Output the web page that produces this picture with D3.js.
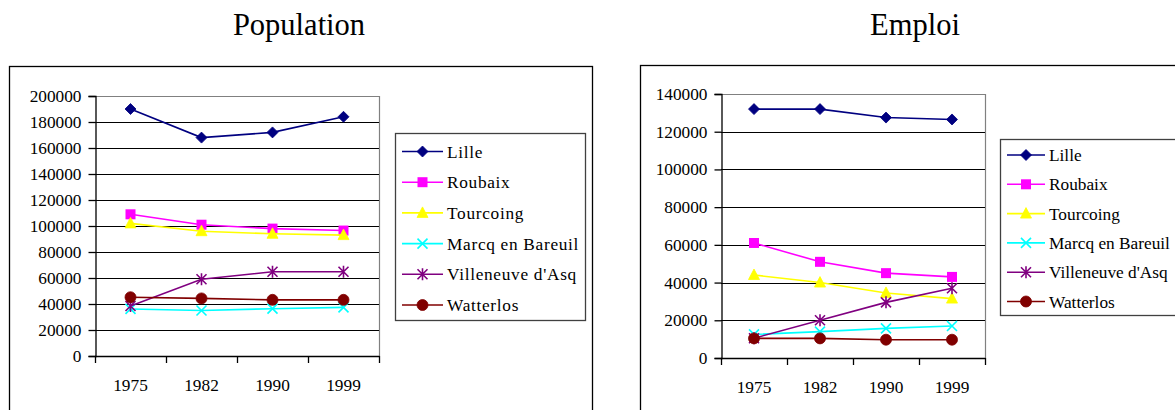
<!DOCTYPE html>
<html>
<head>
<meta charset="utf-8">
<script src="https://cdn.jsdelivr.net/npm/d3@7"></script>
<style>
  html, body { margin: 0; padding: 0; background: #fff; }
  svg { display: block; }
  svg text { font-family: "Liberation Serif", "Times New Roman", serif; }
</style>
</head>
<body>
<svg id="chart" width="1175" height="410"></svg>
<script>
// Years on the category axis
const years = ["1975", "1982", "1990", "1999"];

// Communes, in legend order
const communes = ["Lille", "Roubaix", "Tourcoing", "Marcq en Bareuil", "Villeneuve d'Asq", "Watterlos"];

// Population by commune, one value per year
const popLille      = [190000, 168000, 172000, 184000];
const popRoubaix    = [109000, 101000, 98000, 96500];
const popTourcoing  = [102000, 96000, 94000, 93000];
const popMarcq      = [36200, 35000, 36400, 37400];
const popVilleneuve = [38500, 59000, 64800, 64800];
const popWatterlos  = [45200, 44300, 43200, 43200];

// Jobs by commune, one value per year
const empLille      = [132000, 132000, 127500, 126500];
const empRoubaix    = [61000, 51000, 45000, 43000];
const empTourcoing  = [44000, 40000, 34500, 31500];
const empMarcq      = [12500, 14000, 15700, 17000];
const empVilleneuve = [10500, 20000, 29500, 37000];
const empWatterlos  = [10400, 10400, 9700, 9700];

// Value-axis tick labels
const popTicks = [0, 20000, 40000, 60000, 80000, 100000, 120000, 140000, 160000, 180000, 200000];
const empTicks = [0, 20000, 40000, 60000, 80000, 100000, 120000, 140000];

const colors  = ["#000080", "#FF00FF", "#FFFF00", "#00FFFF", "#800080", "#800000"];
const markers = ["diamond", "square", "triangle", "x", "asterisk", "circle"];

const FONT = "'Liberation Serif', 'Times New Roman', serif";
const svg = d3.select("#chart");

// Marker shapes drawn as paths centred on (0,0)
function markerPath(kind) {
  const p = d3.path();
  switch (kind) {
    case "diamond": p.moveTo(0, -5.5); p.lineTo(5.5, 0); p.lineTo(0, 5.5); p.lineTo(-5.5, 0); p.closePath(); break;
    case "square": p.rect(-5, -5, 10, 10); break;
    case "triangle": p.moveTo(0, -6); p.lineTo(5.5, 4.5); p.lineTo(-5.5, 4.5); p.closePath(); break;
    case "x": p.moveTo(-5, -5); p.lineTo(5, 5); p.moveTo(5, -5); p.lineTo(-5, 5); break;
    case "asterisk": p.moveTo(-5, -5); p.lineTo(5, 5); p.moveTo(5, -5); p.lineTo(-5, 5); p.moveTo(0, -6); p.lineTo(0, 6); break;
    case "circle": p.arc(0, 0, 5.5, 0, 2 * Math.PI); break;
  }
  return p.toString();
}

function drawMarker(g, kind, color, x, y) {
  const stroked = kind === "x" || kind === "asterisk";
  g.append("path")
    .attr("d", markerPath(kind))
    .attr("transform", `translate(${x},${y})`)
    .attr("fill", stroked ? "none" : color)
    .attr("stroke", color)
    .attr("stroke-width", stroked ? 1.6 : (kind === "square" ? 0 : 0.8));
}

function drawPanel(cfg) {
  const g = svg.append("g").attr("font-family", FONT);

  // Outer chart frame
  g.append("rect")
    .attr("x", cfg.frame[0] + 0.5).attr("y", cfg.frame[1] + 0.5)
    .attr("width", cfg.frame[2]).attr("height", cfg.frame[3])
    .attr("fill", "none").attr("stroke", "#000").attr("stroke-width", 1.3);

  // Title
  g.append("text")
    .attr("x", cfg.titleX).attr("y", 35)
    .attr("text-anchor", "middle")
    .attr("font-family", FONT)
    .attr("font-size", 30.5)
    .attr("fill", "#000")
    .text(cfg.title);

  const x = d3.scaleBand().domain(years).range([cfg.plot.left, cfg.plot.right]).padding(0);
  const y = d3.scaleLinear().domain([0, d3.max(cfg.ticks)]).range([cfg.plot.bottom, cfg.plot.top]);

  // Plot area outline (grey top and right)
  g.append("path")
    .attr("d", `M${cfg.plot.left},${cfg.plot.top + 0.5}H${cfg.plot.right + 0.5}V${cfg.plot.bottom}`)
    .attr("fill", "none").attr("stroke", "#808080").attr("stroke-width", 1.2);

  // Horizontal gridlines
  g.append("g").selectAll("line")
    .data(cfg.ticks.filter(t => t > 0 && t < d3.max(cfg.ticks)))
    .join("line")
    .attr("x1", cfg.plot.left).attr("x2", cfg.plot.right)
    .attr("y1", d => Math.round(y(d)) + 0.5).attr("y2", d => Math.round(y(d)) + 0.5)
    .attr("stroke", "#000").attr("stroke-width", 1);

  // Value axis
  const yAxis = g.append("g")
    .attr("transform", `translate(${cfg.plot.left + 0.5},0)`)
    .call(d3.axisLeft(y).tickValues(cfg.ticks).tickFormat(d3.format("d")).tickSize(7).tickPadding(7))
    .attr("font-family", FONT)
    .attr("font-size", 17.3);
  yAxis.select(".domain").attr("stroke", "#000").attr("stroke-width", 1.3);
  yAxis.selectAll(".tick line").attr("stroke", "#000").attr("stroke-width", 1.3);
  yAxis.selectAll(".tick text").attr("fill", "#000");

  // Category axis: baseline with ticks between categories
  const bx = g.append("g");
  bx.append("line")
    .attr("x1", cfg.plot.left).attr("x2", cfg.plot.right + 0.5)
    .attr("y1", cfg.plot.bottom + 0.5).attr("y2", cfg.plot.bottom + 0.5)
    .attr("stroke", "#000").attr("stroke-width", 1.3);
  const edges = years.map(d => x(d)).concat([x(years[years.length - 1]) + x.bandwidth()]);
  bx.selectAll("line.tk").data(edges).join("line").attr("class", "tk")
    .attr("x1", d => Math.round(d) + 0.5).attr("x2", d => Math.round(d) + 0.5)
    .attr("y1", cfg.plot.bottom).attr("y2", cfg.plot.bottom + 7)
    .attr("stroke", "#000").attr("stroke-width", 1.3);
  bx.selectAll("text").data(years).join("text")
    .attr("x", d => x(d) + x.bandwidth() / 2)
    .attr("y", cfg.plot.bottom + 35)
    .attr("text-anchor", "middle")
    .attr("font-family", FONT)
    .attr("font-size", 17.3).attr("fill", "#000")
    .text(d => d);

  // Series lines and markers
  cfg.series.forEach((vals, i) => {
    const line = d3.line().x((d, j) => x(years[j]) + x.bandwidth() / 2).y(d => y(d));
    g.append("path")
      .attr("d", line(vals))
      .attr("fill", "none").attr("stroke", colors[i]).attr("stroke-width", 1.6);
    vals.forEach((v, j) => drawMarker(g, markers[i], colors[i], x(years[j]) + x.bandwidth() / 2, y(v)));
  });

  // Legend
  const L = cfg.legend;
  g.append("rect")
    .attr("x", L.x + 0.5).attr("y", L.y + 0.5).attr("width", L.w).attr("height", L.h)
    .attr("fill", "#fff").attr("stroke", "#404040").attr("stroke-width", 1.3);
  communes.forEach((name, i) => {
    const cy = L.firstY + i * L.step;
    g.append("line")
      .attr("x1", L.x + 7).attr("x2", L.x + 7 + L.lineW)
      .attr("y1", cy).attr("y2", cy)
      .attr("stroke", colors[i]).attr("stroke-width", 1.6);
    drawMarker(g, markers[i], colors[i], L.x + 7 + L.lineW / 2, cy);
    g.append("text")
      .attr("x", L.x + 11 + L.lineW).attr("y", cy + 6)
      .attr("font-family", FONT)
      .attr("font-size", 17.3)
      .attr("letter-spacing", L.spacing)
      .attr("fill", "#000")
      .text(name);
  });
}

drawPanel({
  title: "Population",
  titleX: 299,
  frame: [9, 66, 583, 360],
  plot: { left: 95, right: 379, top: 96, bottom: 356 },
  ticks: popTicks,
  series: [popLille, popRoubaix, popTourcoing, popMarcq, popVilleneuve, popWatterlos],
  legend: { x: 395, y: 133, w: 190, h: 187, firstY: 151.5, step: 30.7, lineW: 41, spacing: 0.7 }
});

drawPanel({
  title: "Emploi",
  titleX: 915,
  frame: [640, 65, 600, 360],
  plot: { left: 721, right: 985, top: 94, bottom: 358 },
  ticks: empTicks,
  series: [empLille, empRoubaix, empTourcoing, empMarcq, empVilleneuve, empWatterlos],
  legend: { x: 1000, y: 139, w: 200, h: 176, firstY: 155, step: 29.3, lineW: 38, spacing: 0 }
});
</script>
</body>
</html>
